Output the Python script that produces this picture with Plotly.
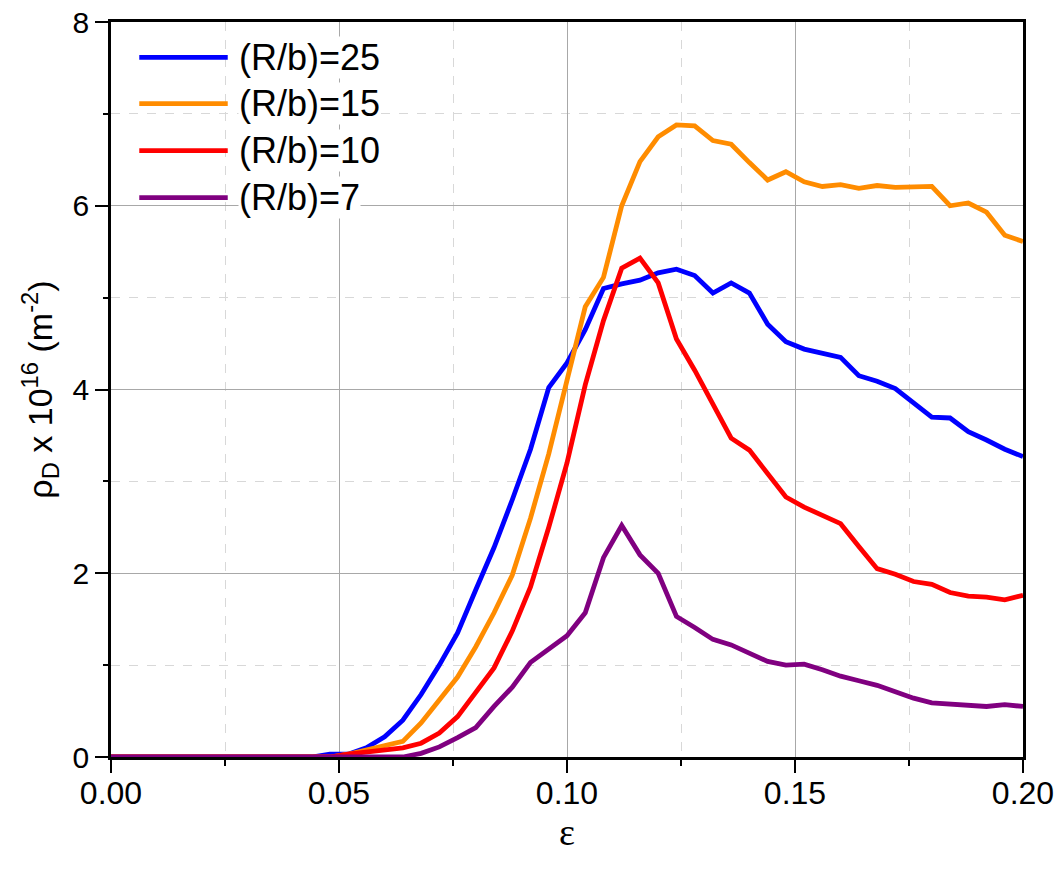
import plotly.graph_objects as go

# strain values (epsilon), sampled every 0.004 from 0 to 0.2
eps = [round(i * 0.004, 3) for i in range(51)]

rho_25 = [0, 0, 0, 0, 0, 0, 0, 0, 0, 0, 0, 0.0, 0.03, 0.03, 0.10, 0.22, 0.40, 0.68, 1.00, 1.35,
          1.82, 2.28, 2.80, 3.35, 4.02, 4.29, 4.65, 5.10, 5.15, 5.19, 5.27, 5.31, 5.24, 5.05, 5.16,
          5.05, 4.71, 4.52, 4.44, 4.39, 4.35, 4.15, 4.09, 4.01, 3.86, 3.70, 3.69, 3.54, 3.45, 3.35, 3.27]
rho_15 = [0, 0, 0, 0, 0, 0, 0, 0, 0, 0, 0, 0, 0.0, 0.03, 0.08, 0.13, 0.17, 0.37, 0.62, 0.87,
          1.20, 1.57, 1.98, 2.60, 3.30, 4.10, 4.90, 5.22, 6.00, 6.48, 6.75, 6.88, 6.87, 6.71, 6.67,
          6.47, 6.28, 6.37, 6.26, 6.21, 6.23, 6.19, 6.22, 6.20, 6.21, 6.21, 6.00, 6.03, 5.93, 5.68, 5.61]
rho_10 = [0, 0, 0, 0, 0, 0, 0, 0, 0, 0, 0, 0, 0.0, 0.03, 0.05, 0.08, 0.10, 0.15, 0.26, 0.44,
          0.70, 0.97, 1.37, 1.85, 2.50, 3.20, 4.05, 4.75, 5.32, 5.43, 5.16, 4.55, 4.21, 3.84, 3.47,
          3.34, 3.09, 2.83, 2.72, 2.63, 2.54, 2.29, 2.05, 1.99, 1.91, 1.88, 1.79, 1.75, 1.74, 1.71, 1.76]
rho_7 = [0, 0, 0, 0, 0, 0, 0, 0, 0, 0, 0, 0, 0, 0, 0, 0, 0, 0.04, 0.11, 0.21,
         0.32, 0.55, 0.76, 1.03, 1.18, 1.32, 1.57, 2.17, 2.52, 2.20, 2.00, 1.53, 1.41, 1.28, 1.22,
         1.13, 1.04, 1.00, 1.01, 0.95, 0.88, 0.83, 0.78, 0.71, 0.64, 0.59, 0.58, 0.57, 0.55, 0.57, 0.55]

series_names = ["(R/b)=25", "(R/b)=15", "(R/b)=10", "(R/b)=7"]
series_values = [rho_25, rho_15, rho_10, rho_7]
series_colors = ["#0000FF", "#FF8C00", "#FF0000", "#800080"]

x_ticks = [0.0, 0.05, 0.10, 0.15, 0.20]
x_tick_labels = ["0.00", "0.05", "0.10", "0.15", "0.20"]
y_ticks = [0, 2, 4, 6, 8]

FONT = "Liberation Sans, Arial, sans-serif"

fig = go.Figure()
for name, vals, col in zip(series_names, series_values, series_colors):
    fig.add_trace(go.Scatter(x=eps, y=vals, mode="lines", name=name,
                             line=dict(color=col, width=4.8), showlegend=False))

# legend drawn as sample lines plus labels
leg_y = [0.952, 0.889, 0.825, 0.761]
for name, col, yy in zip(series_names, series_colors, leg_y):
    fig.add_shape(type="line", xref="paper", yref="paper", x0=0.031, x1=0.128, y0=yy, y1=yy,
                  line=dict(color=col, width=4.8), layer="above")
    fig.add_annotation(xref="paper", yref="paper", x=0.139, y=yy, text=name, showarrow=False,
                       xanchor="left", yanchor="middle", bgcolor="white", borderpad=0,
                       font=dict(family=FONT, size=36, color="black"))

axis_common = dict(
    showline=True, linecolor="black", linewidth=2.5, mirror=True,
    ticks="outside", ticklen=13, tickwidth=2, tickcolor="black",
    showgrid=True, gridcolor="#A8A8A8", gridwidth=1.2,
    zeroline=False, automargin=False,
)

fig.update_xaxes(
    range=[0, 0.2], tickvals=x_ticks, ticktext=x_tick_labels,
    tickfont=dict(family=FONT, size=32, color="black"), ticklabelstandoff=-7,
    minor=dict(dtick=0.025, ticks="outside", ticklen=6, tickwidth=2, tickcolor="black",
               showgrid=True, gridcolor="#D8D8D8", griddash="dash", gridwidth=1),
    title=dict(text="ε", font=dict(family="Liberation Serif, serif", size=38, color="black"),
               standoff=6),
    **axis_common,
)
fig.update_yaxes(
    range=[0, 8], tickvals=y_ticks,
    tickfont=dict(family=FONT, size=30, color="black"),
    minor=dict(dtick=1, ticks="outside", ticklen=5, tickwidth=2, tickcolor="black",
               showgrid=True, gridcolor="#D8D8D8", griddash="dash", gridwidth=1),
    title=dict(text="ρ<sub>D</sub> x 10<sup>16</sup> (m<sup>-2</sup>)",
               font=dict(family=FONT, size=34, color="black"), standoff=10),
    **axis_common,
)

fig.update_layout(
    width=1062, height=869,
    margin=dict(l=111, r=39, t=22, b=112),
    plot_bgcolor="white", paper_bgcolor="white",
)

fig.write_html("out.html")
